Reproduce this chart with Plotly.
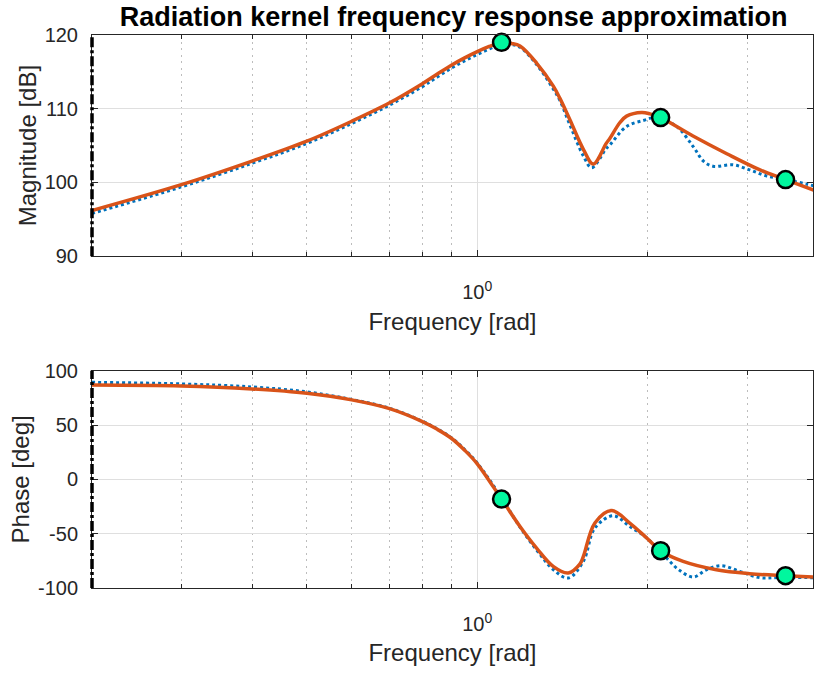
import numpy as np
import plotly.graph_objects as go

# ---------------- data ----------------
freq_mag_fit = [0.2086, 0.3, 0.4, 0.5, 0.6, 0.7, 0.8, 0.85, 0.9, 0.95, 1.0, 1.05, 1.104, 1.15, 1.19, 1.273, 1.362,
                1.40, 1.458, 1.54, 1.603, 1.69, 1.716, 1.786, 1.836, 1.953, 2.02, 2.109,
                2.406, 2.76, 3.16, 3.506, 3.95]
mag_fit = [96.2, 99.7, 102.9, 105.6, 108.3, 110.8, 113.4, 114.7, 115.9, 116.9, 117.75, 118.45, 119.0, 118.85, 118.5, 116.2, 113.1,
           111.4, 108.5, 104.5, 102.5, 105.3, 106.0, 108.1, 109.0, 109.5, 109.3, 108.8,
           106.3, 103.9, 101.7, 100.4, 98.9]

freq_mag_data = [0.2086, 0.3, 0.4, 0.5, 0.6, 0.7, 0.8, 0.85, 0.9, 0.95, 1.0, 1.05, 1.104, 1.15, 1.19, 1.273, 1.362,
                 1.40, 1.458, 1.54, 1.593, 1.69, 1.716, 1.836, 1.965, 2.07, 2.25, 2.406,
                 2.51, 2.61, 2.83, 3.03, 3.24, 3.506, 3.81, 3.95]
mag_data = [95.8, 99.4, 102.6, 105.3, 108.0, 110.5, 113.0, 114.3, 115.5, 116.5, 117.35, 118.1, 118.7, 118.7, 118.35, 116.0, 112.7,
            111.1, 107.8, 103.6, 102.0, 104.6, 105.1, 107.6, 108.4, 108.8, 107.6, 104.9,
            102.9, 102.2, 102.4, 101.7, 100.9, 100.4, 99.8, 99.5]

freq_ph_fit = [0.2086, 0.3, 0.4, 0.5, 0.6, 0.7, 0.8, 0.85, 0.9, 0.95, 1.0, 1.104, 1.19, 1.273, 1.362,
               1.448, 1.518, 1.54, 1.614, 1.727, 1.86, 1.993, 2.109, 2.311, 2.646, 3.03,
               3.506, 3.95]
ph_fit = [86.9, 86.0, 83.2, 79.2, 73.1, 65.0, 53.1, 46.0, 37.8, 26.8, 14.3, -18.2, -43.4, -63.3, -80.1,
          -86.2, -78.0, -71.0, -40.2, -28.7, -40.2, -54.0, -65.7, -75.5, -83.2, -86.8,
          -88.7, -90.0]

freq_ph_data = [0.2086, 0.3, 0.4, 0.5, 0.6, 0.7, 0.8, 0.85, 0.9, 0.95, 1.0, 1.104, 1.19, 1.273, 1.362,
                1.448, 1.54, 1.614, 1.74, 1.86, 1.993, 2.16, 2.27, 2.41, 2.54, 2.70,
                2.91, 3.16, 3.42, 3.95]
ph_data = [89.3, 87.8, 85.0, 80.5, 73.5, 65.4, 53.5, 46.5, 38.3, 27.5, 15.0, -17.0, -44.0, -65.0, -83.0,
           -90.8, -75.5, -44.8, -33.5, -43.4, -54.0, -72.4, -83.2, -89.9, -83.2, -79.5,
           -84.7, -90.5, -90.3, -90.5]

freq_pts = [1.104, 2.109, 3.506]
mag_pts = [119.0, 108.8, 100.4]
ph_pts = [-18.2, -65.7, -88.7]

x_range = [0.2086, 3.92]
mag_ticks = [90, 100, 110, 120]
ph_ticks = [-100, -50, 0, 50, 100]
minor_vals = [0.3, 0.4, 0.5, 0.6, 0.7, 0.8, 0.9, 2, 3]

# ---------------- style ----------------
ORANGE = "#D95319"
BLUE = "#0072BD"
GREEN = "#00F79E"
AX = "#262626"
FONT = "Liberation Sans, Arial, sans-serif"

fig = go.Figure()

for xa, ya, fx, fy, dx, dy, py in [
    ("x", "y", freq_mag_fit, mag_fit, freq_mag_data, mag_data, mag_pts),
    ("x2", "y2", freq_ph_fit, ph_fit, freq_ph_data, ph_data, ph_pts),
]:
    fig.add_trace(go.Scatter(x=dx, y=dy, mode="lines", xaxis=xa, yaxis=ya,
                             line=dict(color=BLUE, width=3, dash="dot", shape="spline", smoothing=1.0),
                             showlegend=False, hoverinfo="skip"))
    fig.add_trace(go.Scatter(x=fx, y=fy, mode="lines", xaxis=xa, yaxis=ya,
                             line=dict(color=ORANGE, width=3.5, shape="spline", smoothing=1.0),
                             showlegend=False, hoverinfo="skip"))
    fig.add_trace(go.Scatter(x=freq_pts, y=py, mode="markers", xaxis=xa, yaxis=ya,
                             marker=dict(color=GREEN, size=17, line=dict(color="black", width=2.5)),
                             showlegend=False, hoverinfo="skip", cliponaxis=False))

log_range = [float(np.log10(x_range[0])), float(np.log10(x_range[1]))]

def xaxis(domain_anchor):
    return dict(
        type="log", range=log_range, anchor=domain_anchor,
        tickmode="array", tickvals=[1], ticktext=["10<sup>0</sup>"],
        ticks="inside", ticklen=6, tickcolor=AX, tickwidth=1,
        showline=True, linecolor=AX, linewidth=1, mirror="allticks",
        showgrid=True, gridcolor="#DFDFDF", gridwidth=1,
        minor=dict(tickmode="array", tickvals=minor_vals, ticks="inside", ticklen=4,
                   tickcolor=AX, showgrid=True, gridcolor="#BDBDBD", griddash="2px,4.5px", gridwidth=1),
        tickfont=dict(size=20, color=AX, family=FONT),
        ticklabelstandoff=18,
        title=dict(text="Frequency [rad]", font=dict(size=24, color=AX, family=FONT), standoff=10),
        zeroline=False,
    )

def yaxis(domain, anchor, ticks, rng, title):
    return dict(
        domain=domain, anchor=anchor, range=rng,
        tickmode="array", tickvals=ticks, ticktext=[str(t) for t in ticks],
        ticks="inside", ticklen=6, tickcolor=AX,
        showline=True, linecolor=AX, linewidth=1, mirror="allticks",
        showgrid=True, gridcolor="#DFDFDF", gridwidth=1,
        tickfont=dict(size=20, color=AX, family=FONT),
        ticklabelstandoff=9,
        title=dict(text=title, font=dict(size=24, color=AX, family=FONT), standoff=1),
        zeroline=False,
    )

fig.update_layout(
    width=814, height=673,
    margin=dict(l=92, r=1, t=35, b=85),
    paper_bgcolor="white", plot_bgcolor="white",
    font=dict(family=FONT, color=AX),
    title=dict(text="<b>Radiation kernel frequency response approximation</b>",
               font=dict(size=27, color="black", family=FONT),
               x=0.5572, xanchor="center", y=0.975, yanchor="middle"),
    xaxis=xaxis("y"),
    xaxis2=xaxis("y2"),
    yaxis=yaxis([0.600, 1.0], "x", mag_ticks, [90, 120], "Magnitude [dB]"),
    yaxis2=yaxis([0.0, 0.393], "x2", ph_ticks, [-100, 100], "Phase [deg]"),
)

for yr in ["y", "y2"]:
    fig.add_shape(type="line", xref="x domain" if yr == "y" else "x2 domain",
                  yref=f"{yr} domain", x0=0, x1=0, y0=0, y1=1,
                  line=dict(color="black", width=3.5, dash="10px,3px,3px,3px"))

fig.write_html("out.html")
